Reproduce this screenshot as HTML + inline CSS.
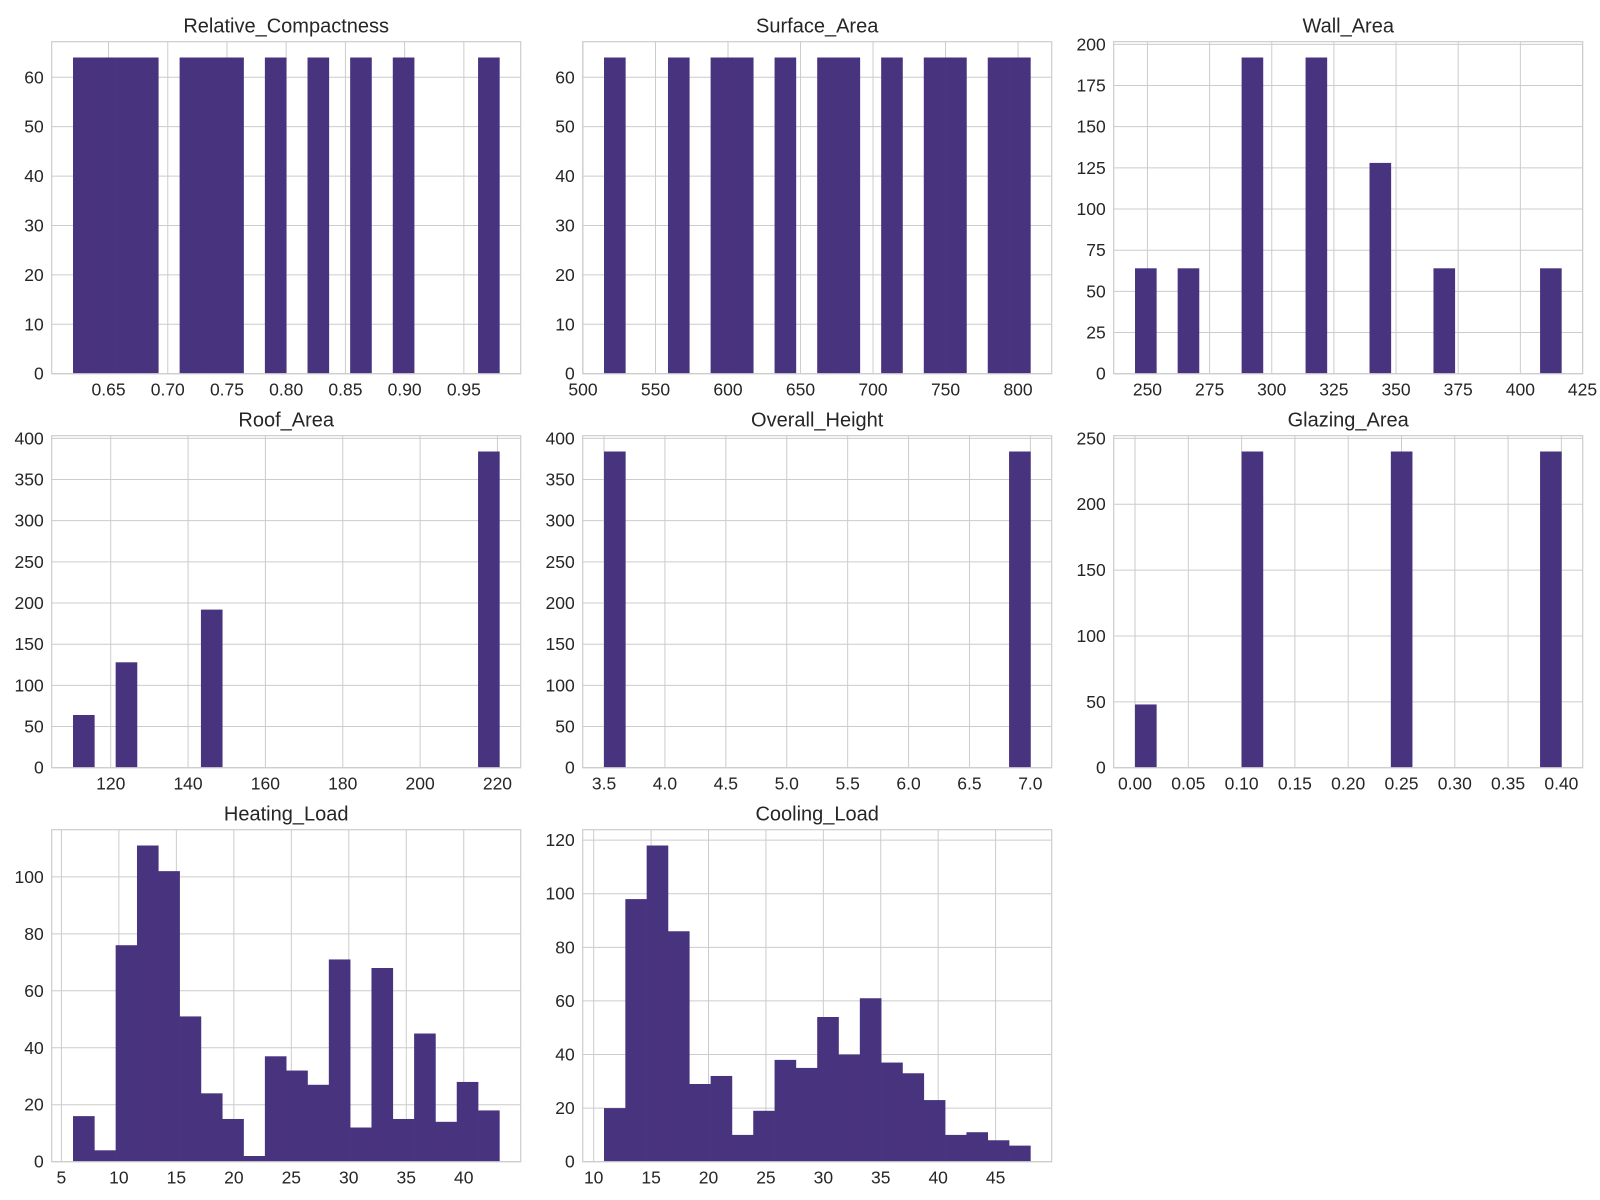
<!DOCTYPE html>
<html><head><meta charset="utf-8"><style>
body{margin:0;background:#fff}
svg{display:block;font-family:"Liberation Sans",Arial,sans-serif}
</style></head><body>
<svg id="fig" width="1600" height="1200" viewBox="0 0 1600 1200"></svg>
<script>
// Chart data (bin edges via [min,max], 20 bins; counts per bin)
const titles = ["Relative_Compactness","Surface_Area","Wall_Area","Roof_Area","Overall_Height","Glazing_Area","Heating_Load","Cooling_Load"];
const dataMin = [0.62, 514.5, 245, 110.25, 3.5, 0, 6.01, 10.9];
const dataMax = [0.98, 808.5, 416.5, 220.5, 7.0, 0.4, 43.1, 48.03];
const countsRC = [64,64,64,64,0,64,64,64,0,64,0,64,0,64,0,64,0,0,0,64];
const countsSA = [64,0,0,64,0,64,64,0,64,0,64,64,0,64,0,64,64,0,64,64];
const countsWA = [64,0,64,0,0,192,0,0,192,0,0,128,0,0,64,0,0,0,0,64];
const countsRA = [64,0,128,0,0,0,192,0,0,0,0,0,0,0,0,0,0,0,0,384];
const countsOH = [384,0,0,0,0,0,0,0,0,0,0,0,0,0,0,0,0,0,0,384];
const countsGA = [48,0,0,0,0,240,0,0,0,0,0,0,240,0,0,0,0,0,0,240];
const countsHL = [16,4,76,111,102,51,24,15,2,37,32,27,71,12,68,15,45,14,28,18];
const countsCL = [20,98,118,86,29,32,10,19,38,35,54,40,61,37,33,23,10,11,8,6];
const xTicksRC = [0.65,0.70,0.75,0.80,0.85,0.90,0.95];
const xTicksSA = [500,550,600,650,700,750,800];
const xTicksWA = [250,275,300,325,350,375,400,425];
const xTicksRA = [120,140,160,180,200,220];
const xTicksOH = [3.5,4.0,4.5,5.0,5.5,6.0,6.5,7.0];
const xTicksGA = [0.00,0.05,0.10,0.15,0.20,0.25,0.30,0.35,0.40];
const xTicksHL = [5,10,15,20,25,30,35,40];
const xTicksCL = [10,15,20,25,30,35,40,45];
const yTicksA = [0,10,20,30,40,50,60];
const yTicksB = [0,25,50,75,100,125,150,175,200];
const yTicksC = [0,50,100,150,200,250,300,350,400];
const yTicksD = [0,50,100,150,200,250];
const yTicksE = [0,20,40,60,80,100];
const yTicksF = [0,20,40,60,80,100,120];
const xDec = [2,0,0,0,1,2,0,0];

const allCounts=[countsRC,countsSA,countsWA,countsRA,countsOH,countsGA,countsHL,countsCL];
const allXT=[xTicksRC,xTicksSA,xTicksWA,xTicksRA,xTicksOH,xTicksGA,xTicksHL,xTicksCL];
const allYT=[yTicksA,yTicksA,yTicksB,yTicksC,yTicksC,yTicksD,yTicksE,yTicksF];

const NS="http://www.w3.org/2000/svg";
const svg=document.getElementById('fig');
function mk(tag,attrs,parent){const e=document.createElementNS(NS,tag);for(const k in attrs)e.setAttribute(k,attrs[k]);parent.appendChild(e);return e;}
const W=469,H=332,colX=[51.7,582.7,1113.7],rowY=[41.7,435.7,829.7];
for(let i=0;i<8;i++){
  const ax0=colX[i%3],ay0=rowY[Math.floor(i/3)];
  const g=mk('g',{},svg);
  
  
  const cnt=allCounts[i],mn=dataMin[i],mx=dataMax[i],rng=mx-mn;
  const xlo=mn-0.05*rng,xhi=mx+0.05*rng,ymax=Math.max(...cnt)*1.05;
  const sx=v=>ax0+(v-xlo)/(xhi-xlo)*W, sy=v=>ay0+H-v/ymax*H;
  allXT[i].forEach(t=>{const x=sx(t);
    const l=mk('line',{x1:x,x2:x,y1:ay0,y2:ay0+H,stroke:'#cccccc','stroke-width':1},g);
    
    const tx=mk('text',{x:x,y:ay0+H+22,'text-anchor':'middle','font-size':17.5,fill:'#262626'},g);
    tx.textContent=t.toFixed(xDec[i]);
    });
  allYT[i].forEach(t=>{const y=sy(t);
    const l=mk('line',{x1:ax0,x2:ax0+W,y1:y,y2:y,stroke:'#cccccc','stroke-width':1},g);
    
    const tx=mk('text',{x:ax0-8,y:y+6,'text-anchor':'end','font-size':17.5,fill:'#262626'},g);
    tx.textContent=t;
    });
  const bw=rng/cnt.length;
  cnt.forEach((c,k)=>{if(!c)return;const x1=sx(mn+k*bw),x2=sx(mn+(k+1)*bw);
    const r=mk('rect',{x:x1,y:sy(c),width:x2-x1+0.3,height:sy(0)-sy(c),fill:'#48337e'},g);
    });
  const fr=mk('rect',{x:ax0,y:ay0,width:W,height:H,fill:'none',stroke:'#cccccc','stroke-width':1.2},g);
  
  const tt=mk('text',{x:ax0+W/2,y:ay0-9,'text-anchor':'middle','font-size':20,fill:'#262626'},g);
  tt.textContent=titles[i];
  
}
</script>
</body></html>
